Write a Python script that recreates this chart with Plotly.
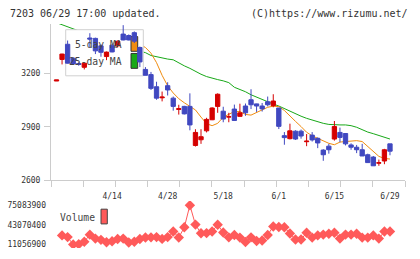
import pandas as pd
import numpy as np
import plotly.graph_objects as go

# ---------------- data ----------------
holidays = ['2020-04-29', '2020-05-04', '2020-05-05', '2020-05-06']
days = [d for d in pd.bdate_range('2020-03-31', '2020-06-29') if d.strftime('%Y-%m-%d') not in holidays]
dates = [f"{d.month}/{d.day}" for d in days]
label_dates = ['4/14', '4/28', '5/18', '6/1', '6/15', '6/29']

open_ = [3157, 3278, 3363, 3285, 3255, 3234, 3398, 3396, 3354, 3294,
         3358, 3354, 3420, 3412, 3428, 3345, 3222, 3193, 3125, 3063,
         3131, 3061, 2998, 3015, 3015, 2796, 2828, 2878, 2940, 3015,
         2988, 2955, 3000, 2959, 3017, 3052, 3029, 3017, 3041, 3019,
         3006, 2851, 2834, 2876, 2876, 2817, 2854, 2836, 2770, 2792,
         2832, 2869, 2863, 2799, 2786, 2772, 2744, 2731, 2697, 2709, 2805]
high = [3163, 3310, 3384, 3290, 3262, 3260, 3425, 3400, 3362, 3322,
        3362, 3384, 3470, 3418, 3435, 3350, 3235, 3208, 3153, 3098,
        3150, 3070, 3024, 3018, 3088, 2887, 2887, 2951, 3010, 3088,
        3013, 2979, 3025, 3030, 3031, 3111, 3030, 3034, 3070, 3083,
        3006, 2871, 2918, 2881, 2885, 2860, 2871, 2841, 2775, 2805,
        2933, 2896, 2863, 2808, 2799, 2805, 2750, 2737, 2717, 2777, 2805]
low = [3157, 3250, 3255, 3250, 3243, 3222, 3345, 3308, 3293, 3274,
       3318, 3345, 3385, 3385, 3370, 3235, 3189, 3107, 3052, 3043,
       3076, 2991, 2969, 2970, 2881, 2790, 2805, 2869, 2938, 2979,
       2926, 2926, 2933, 2958, 2962, 3000, 2984, 2986, 3015, 3010,
       2888, 2800, 2830, 2827, 2834, 2792, 2818, 2781, 2710, 2750,
       2823, 2814, 2796, 2772, 2753, 2737, 2698, 2682, 2682, 2691, 2741]
close = [3163, 3308, 3257, 3253, 3250, 3257, 3392, 3326, 3318, 3319,
         3320, 3380, 3387, 3387, 3380, 3264, 3189, 3116, 3061, 3067,
         3107, 3015, 3002, 2973, 2911, 2869, 2845, 2942, 3006, 3083,
         2944, 2957, 2936, 2979, 2979, 3024, 3017, 3001, 3024, 3045,
         2903, 2840, 2878, 2832, 2849, 2820, 2827, 2810, 2744, 2772,
         2902, 2841, 2805, 2786, 2772, 2737, 2700, 2682, 2699, 2772, 2764]
ma5 = [None, None, 3262, 3258, 3246, 3265, 3282, 3296, 3309, 3322,
       3335, 3333, 3345, 3359, 3371, 3362, 3345, 3313, 3260, 3189,
       3130, 3090, 3058, 3035, 3015, 2995, 2955, 2918, 2907, 2920,
       2955, 2972, 2986, 2986, 2970, 2966, 2982, 2995, 3010, 3016,
       3014, 2992, 2960, 2931, 2902, 2870, 2850, 2836, 2824, 2808,
       2800, 2815, 2818, 2820, 2823, 2818, 2790, 2760, 2735, 2723, 2720]
ma25 = [3484, 3472, 3458, 3448, 3438, 3428, 3418, 3408, 3396, 3385,
        3374, 3362, 3350, 3340, 3332, 3325, 3316, 3300, 3292, 3285,
        3280, 3276, 3258, 3242, 3228, 3210, 3195, 3182, 3172, 3165,
        3158, 3148, 3122, 3110, 3097, 3080, 3066, 3053, 3040, 3028,
        3017, 3002, 2988, 2973, 2960, 2948, 2938, 2929, 2920, 2914,
        2911, 2911, 2911, 2907, 2898, 2884, 2871, 2862, 2852, 2843, 2832]
volume = [None, 25900000, 23100000, 11056900, 11400000, 15500000, 27100000, 20700000, 18600000, 14700000,
          16300000, 20000000, 20700000, 14300000, 15500000, 20000000, 22400000, 22700000, 23100000, 20200000,
          23100000, 32300000, 22400000, 39200000, 75083900, 43500000, 29300000, 29600000, 32300000, 43200000,
          30700000, 22700000, 26600000, 22300000, 15200000, 22700000, 16700000, 17500000, 26600000, 40500000,
          39500000, 39200000, 29100000, 19200000, 19100000, 30300000, 22300000, 25900000, 27200000, 28700000,
          30300000, 20700000, 27200000, 27200000, 28700000, 22300000, 22300000, 25900000, 20700000, 32300000, 32300000]
price_ticks = [2600, 2900, 3200]

idx = list(range(len(dates)))

# ---------------- layout geometry (pixels) ----------------
W, H = 420, 259
PX_L, PX_R = 51, 405
PX_T, PX_B = 24.5, 184
FIRST_PX, STEP = 56.5, 5.558
xr = [(PX_L - FIRST_PX) / STEP, (PX_R - FIRST_PX) / STEP]
yr = [2600, 2600 + (PX_B - PX_T) * 300 / 54.6]
xdom = [PX_L / W, PX_R / W]
ydom = [1 - PX_B / H, 1 - PX_T / H]

def px_x(px):
    return xr[0] + (px - PX_L) / (PX_R - PX_L) * (xr[1] - xr[0])

def px_y(py):
    return yr[0] + (PX_B - py) / (PX_B - PX_T) * (yr[1] - yr[0])

vvals = [v for v in volume if v is not None]
vmin, vmax = min(vvals), max(vvals)
VPX_T, VPX_B = 205, 253
k = (vmax - vmin) / (249.3 - 209.3)
vr = [vmin - (VPX_B - 249.3) * k, vmax + (209.3 - VPX_T) * k]
vdom = [1 - VPX_B / H, 1 - VPX_T / H]

RED = '#d50000'
BLUE = '#4048c0'
ORANGE = '#f08c10'
GREEN = '#18a818'
VOLC = '#ff5a5a'
AXC = '#cccccc'
FONT = 'DejaVu Sans Mono'
TXT = '#333333'

fig = go.Figure()
fig.add_trace(go.Scatter(x=idx, y=ma25, mode='lines', line=dict(color=GREEN, width=1),
                         xaxis='x', yaxis='y', hoverinfo='skip'))
fig.add_trace(go.Scatter(x=idx, y=ma5, mode='lines', line=dict(color=ORANGE, width=1),
                         xaxis='x', yaxis='y', hoverinfo='skip'))
fig.add_trace(go.Candlestick(x=idx, open=open_, high=high, low=low, close=close,
                             xaxis='x2', yaxis='y2', whiskerwidth=0,
                             increasing=dict(line=dict(color=RED, width=1), fillcolor=RED),
                             decreasing=dict(line=dict(color=BLUE, width=1), fillcolor=BLUE)))
fig.add_trace(go.Scatter(x=idx, y=volume, mode='lines+markers', xaxis='x3', yaxis='y3',
                         line=dict(color=VOLC, width=1),
                         marker=dict(symbol='diamond', size=8, color=VOLC)))

shapes = [
    dict(type='rect', xref='x2', yref='y2', layer='below',
         x0=px_x(65.7), x1=px_x(143.3), y0=px_y(77.3), y1=px_y(30.3),
         fillcolor='white', line=dict(color='#d0d0d0', width=1)),
    dict(type='rect', xref='x2', yref='y2', layer='below',
         x0=px_x(131), x1=px_x(137.7), y0=px_y(52.3), y1=px_y(37.3),
         fillcolor=ORANGE, line=dict(color='#333333', width=1)),
    dict(type='rect', xref='x2', yref='y2', layer='below',
         x0=px_x(131), x1=px_x(137.7), y0=px_y(69.7), y1=px_y(54.5),
         fillcolor=GREEN, line=dict(color='#333333', width=1)),
    dict(type='rect', xref='paper', yref='paper', layer='above',
         x0=101 / W, x1=107.3 / W, y0=1 - 228.3 / H, y1=1 - 213.3 / H,
         fillcolor=VOLC, line=dict(color='#444444', width=1)),
]

annotations = [
    dict(text='7203 06/29 17:00 updated.', xref='paper', yref='paper', x=8 / W, y=1 - 13.3 / H,
         xanchor='left', yanchor='middle', showarrow=False, font=dict(family=FONT, size=10, color=TXT)),
    dict(text='(C)https://www.rizumu.net/', xref='paper', yref='paper', x=409.5 / W, y=1 - 13.3 / H,
         xanchor='right', yanchor='middle', showarrow=False, font=dict(family=FONT, size=10, color=TXT)),
    dict(text='5-day MA', xref='paper', yref='paper', x=124 / W, y=1 - 45.3 / H,
         xanchor='right', yanchor='middle', showarrow=False, font=dict(family=FONT, size=9.7, color='#444444')),
    dict(text='25-day MA', xref='paper', yref='paper', x=124 / W, y=1 - 63 / H,
         xanchor='right', yanchor='middle', showarrow=False, font=dict(family=FONT, size=9.7, color='#444444')),
    dict(text='Volume', xref='paper', yref='paper', x=57.5 / W, y=1 - 221.5 / H,
         xanchor='left', yanchor='middle', showarrow=False, font=dict(family=FONT, size=9.7, color='#444444')),
]

fig.update_layout(
    width=W, height=H, margin=dict(l=0, r=0, t=0, b=0),
    paper_bgcolor='white', plot_bgcolor='rgba(0,0,0,0)',
    showlegend=False, boxgap=0.12, boxgroupgap=0.12,
    shapes=shapes, annotations=annotations,
    xaxis=dict(domain=xdom, range=xr, anchor='y', showline=True, linecolor=AXC, linewidth=1,
               ticks='outside', ticklen=6, tickcolor=AXC, tickwidth=1,
               tickvals=list(np.linspace(xr[0], xr[1], 12)), showticklabels=False,
               showgrid=False, zeroline=False, fixedrange=True),
    yaxis=dict(domain=ydom, range=yr, anchor='x', showline=True, linecolor=AXC, linewidth=1,
               ticks='outside', ticklen=6, tickcolor=AXC, tickwidth=1,
               tickvals=price_ticks, ticktext=[str(v) for v in price_ticks],
               tickfont=dict(family=FONT, size=8, color=TXT), ticklabelstandoff=2,
               showgrid=False, zeroline=False, fixedrange=True),
    xaxis2=dict(domain=xdom, range=xr, anchor='y2', showline=False, ticks='',
                tickvals=[dates.index(d) for d in label_dates], ticktext=label_dates,
                tickfont=dict(family=FONT, size=8, color=TXT), ticklabelstandoff=10,
                showgrid=False, zeroline=False, fixedrange=True,
                rangeslider=dict(visible=False)),
    yaxis2=dict(domain=ydom, range=yr, anchor='x2', visible=False, fixedrange=True),
    xaxis3=dict(domain=xdom, range=xr, anchor='y3', visible=False, fixedrange=True),
    yaxis3=dict(domain=vdom, range=vr, anchor='x3', showline=False, ticks='',
                tickvals=[vmin, (vmin + vmax) / 2, vmax],
                ticktext=[str(int(v)) for v in [vmin, (vmin + vmax) / 2, vmax]],
                tickfont=dict(family=FONT, size=8, color=TXT), ticklabelstandoff=4,
                showgrid=False, zeroline=False, fixedrange=True),
)

fig.write_html('out.html')
